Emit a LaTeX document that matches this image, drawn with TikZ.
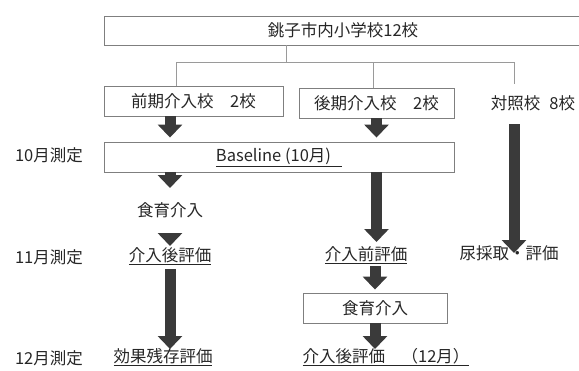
\documentclass[tikz,border=0pt]{standalone}
\usepackage{fontspec}
\setmainfont{Noto Sans CJK JP}
\usetikzlibrary{arrows.meta,calc}
\definecolor{arr}{HTML}{3A3A3A}
\definecolor{bord}{HTML}{7F7F7F}
\definecolor{lnk}{HTML}{9A9A9A}
\definecolor{txt}{HTML}{262626}
\begin{document}
\begin{tikzpicture}[x=1pt,y=-1pt,
  every node/.style={font=\fontsize{16.5}{19}\selectfont, text=txt, inner sep=0pt},
  box/.style={draw=bord, line width=0.9pt, minimum height=30pt},
  link/.style={draw=lnk, line width=0.8pt},
  bigarrow/.style={draw=arr, line width=11pt, -{Triangle[width=24pt,length=13pt]}}]
\useasboundingbox (0,0) rectangle (579,370);
% boxes and labels
\node[box, minimum width=478pt, minimum height=29pt] (top) at (343,30.5) {銚子市内小学校12校};
\node[box, minimum width=179pt] (early) at (193.5,101) {前期介入校　2校};
\node[box, minimum width=155pt] (late) at (376.5,103) {後期介入校　2校};
\node (ctrl) at (533,103) {対照校\hspace{9pt}8校};
\node (t10) at (49,155) {10月測定};
\node[box, minimum width=350pt] (base) at (279,157) {\underline{Baseline (10月)\hspace{11pt}}};
\node (edu1) at (170,210) {食育介入};
\node (t11) at (49,257) {11月測定};
\node (post1) at (170,256) {\underline{介入後評価}};
\node (pre2) at (366,255) {\underline{介入前評価}};
\node (urine) at (509,253) {尿採取・評価};
\node[box, minimum width=144pt] (edu2) at (375,308) {食育介入};
\node (t12) at (49,358) {12月測定};
\node (resid) at (163,357) {\underline{効果残存評価}};
\node (post2) at (386,357) {\underline{介入後評価　（12月）}};
% tree connectors
\coordinate (j0) at (286,62);
\coordinate (j1) at (176,62);
\coordinate (j2) at (373,62);
\coordinate (j3) at (514,62);
\coordinate (cdrop) at (514,84);
\draw[link] (top.south -| j0) -- (j0);
\draw[link] (j1 |- early.north) -- (j1) -- (j3) -- (cdrop);
\draw[link] (j2) -- (j2 |- late.north);
% block arrows
\draw[bigarrow] (early.south -| edu1) -- ($(base.north -| edu1)+(0,-4)$);
\draw[bigarrow] (late.south) -- ($(base.north -| late)+(0,-4)$);
\coordinate (ca1) at ($(ctrl.center)+(0,21)$);
\draw[bigarrow] (ca1 -| cdrop) -- (cdrop |- urine.center);
\draw[bigarrow] (base.south -| edu1) -- ($(edu1.center)+(0,-22)$);
\draw[bigarrow] ($(edu1.center)+(0,25)$) -- ($(post1.center)+(0,-10)$);
\draw[bigarrow] ($(post1.center)+(0,13)$) -- ($(resid.center -| post1)+(0,-8)$);
\draw[bigarrow] (base.south -| late) -- ($(pre2.center -| late)+(0,-13)$);
\draw[bigarrow] ($(pre2.center -| edu2)+(0,11)$) -- ($(edu2.north)+(0,-3)$);
\draw[bigarrow] (edu2.south) -- ($(post2.center -| edu2)+(0,-8)$);
\end{tikzpicture}
\end{document}
